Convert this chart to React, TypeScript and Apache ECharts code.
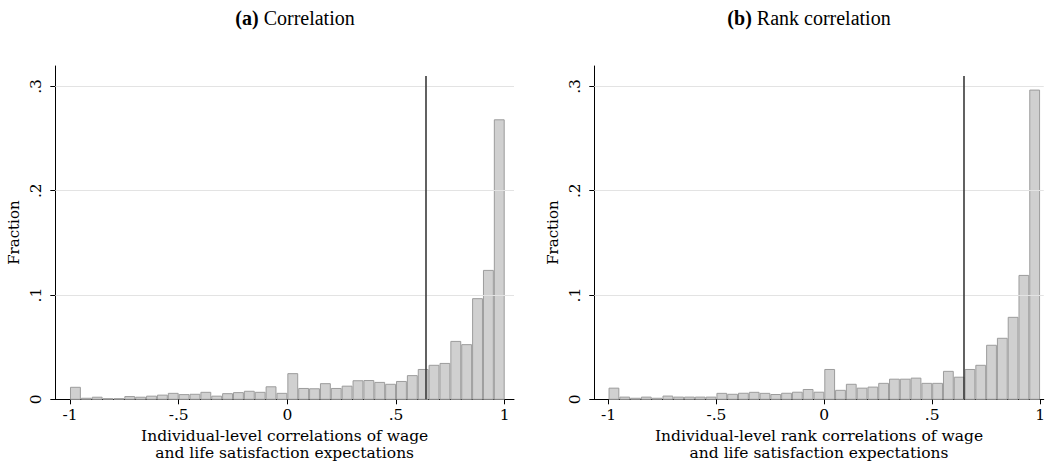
import React, { useEffect, useRef } from "react";
import * as echarts from "echarts";

// Histogram bins: 40 bins of width 0.05 starting at -1
const BIN_START = -1;
const BIN_WIDTH = 0.05;

// Fraction of respondents per bin, panel (a): correlation
const corrFractions = [
  0.0115, 0.001, 0.002, 0.0006, 0.0006, 0.0026, 0.002, 0.003, 0.004, 0.0057,
  0.0045, 0.0048, 0.0067, 0.003, 0.0054, 0.0064, 0.0077, 0.0067, 0.012, 0.0057,
  0.0246, 0.0104, 0.0101, 0.015, 0.0104, 0.0126, 0.0178, 0.018, 0.0162, 0.0144,
  0.0171, 0.0227, 0.0286, 0.0326, 0.0344, 0.0555, 0.0524, 0.0965, 0.1236, 0.268,
];

// Fraction of respondents per bin, panel (b): rank correlation
const rankFractions = [
  0.0107, 0.0021, 0.001, 0.0021, 0.001, 0.0031, 0.0021, 0.0021, 0.0021, 0.0021,
  0.0057, 0.0048, 0.0058, 0.0067, 0.0057, 0.0046, 0.0058, 0.0068, 0.0094, 0.0068,
  0.0286, 0.0086, 0.0144, 0.0107, 0.0117, 0.0153, 0.0193, 0.0193, 0.0203, 0.0153,
  0.0153, 0.0268, 0.0212, 0.0286, 0.0326, 0.0518, 0.0585, 0.0786, 0.1188, 0.2965,
];

// Mean correlation marked by the vertical line
const corrMean = 0.637;
const rankMean = 0.644;

const xTicks = [-1, -0.5, 0, 0.5, 1];
const yTicks = [0, 0.1, 0.2, 0.3];
const gridLines = [0.1, 0.2, 0.3];

const panelTitles = ["Correlation", "Rank correlation"];
const panelTags = ["(a)", "(b)"];
const xTitles = [
  "Individual-level correlations of wage\nand life satisfaction expectations",
  "Individual-level rank correlations of wage\nand life satisfaction expectations",
];
const yTitle = "Fraction";

const FONT = "DejaVu Serif";
const TITLE_FONT = "Liberation Serif";

const fmt = (v: number) => {
  if (Math.abs(v) < 1e-9) return "0";
  const s = String(Math.round(v * 100) / 100);
  return s.replace(/^(-?)0\./, "$1.");
};

const panels = [
  { fractions: corrFractions, mean: corrMean, left: 55.3, right: 514, xmin: -1.0676, xmax: 1.0428, titleX: 295 },
  { fractions: rankFractions, mean: rankMean, left: 594.3, right: 1047.5, xmin: -1.066, xmax: 1.017, titleX: 809 },
];

const GRID_TOP = 66;
const GRID_BOTTOM = 399.3;
const Y_MAX = 0.3196;

export default function App() {
  const ref = useRef<HTMLDivElement>(null);

  useEffect(() => {
    if (!ref.current) return;
    const chart = echarts.init(ref.current, null, { renderer: "svg" });

    const grids: any[] = [];
    const xAxes: any[] = [];
    const yAxes: any[] = [];
    const series: any[] = [];
    const graphics: any[] = [];

    panels.forEach((p, i) => {
      grids.push({
        left: p.left,
        top: GRID_TOP,
        width: p.right - p.left,
        height: GRID_BOTTOM - GRID_TOP,
        containLabel: false,
      });
      xAxes.push({
        gridIndex: i,
        type: "value",
        min: p.xmin,
        max: p.xmax,
        axisLine: { show: true, onZero: false, lineStyle: { color: "#000", width: 1 } },
        axisTick: { show: true, customValues: xTicks, length: 5, lineStyle: { color: "#000", width: 1 } },
        axisLabel: {
          customValues: xTicks,
          formatter: (v: number) => fmt(v),
          fontFamily: FONT,
          fontSize: 15.5,
          color: "#000",
          margin: 8,
        },
        splitLine: { show: false },
        name: xTitles[i],
        nameLocation: "middle",
        nameGap: 28,
        nameTextStyle: { fontFamily: FONT, fontSize: 15.5, color: "#000", lineHeight: 16.5 },
      });
      yAxes.push({
        gridIndex: i,
        type: "value",
        min: 0,
        max: Y_MAX,
        axisLine: { show: true, onZero: false, lineStyle: { color: "#000", width: 1 } },
        axisTick: { show: true, customValues: yTicks, length: 5, lineStyle: { color: "#000", width: 1 } },
        axisLabel: {
          customValues: yTicks,
          formatter: (v: number) => fmt(v),
          rotate: 90,
          fontFamily: FONT,
          fontSize: 15.5,
          color: "#000",
          margin: 11,
        },
        splitLine: { show: false },
        name: yTitle,
        nameLocation: "middle",
        nameRotate: 90,
        nameGap: 34,
        nameTextStyle: { fontFamily: FONT, fontSize: 15, color: "#000" },
      });

      // horizontal gridlines
      series.push({
        type: "line",
        xAxisIndex: i,
        yAxisIndex: i,
        data: [],
        z: 1,
        markLine: {
          silent: true,
          symbol: "none",
          label: { show: false },
          lineStyle: { color: "#e3e3e3", width: 1, type: "solid" },
          data: gridLines.map((y) => ({ yAxis: y })),
        },
      });

      // histogram bars
      const data = p.fractions.map((f, k) => [BIN_START + k * BIN_WIDTH, BIN_START + (k + 1) * BIN_WIDTH, f]);
      series.push({
        type: "custom",
        xAxisIndex: i,
        yAxisIndex: i,
        z: 2,
        data,
        renderItem: (params: any, api: any) => {
          const tl = api.coord([api.value(0), api.value(2)]);
          const br = api.coord([api.value(1), 0]);
          return {
            type: "rect",
            shape: { x: tl[0] + 0.5, y: tl[1], width: br[0] - tl[0] - 1, height: br[1] - tl[1] },
            style: { fill: "#d0d0d0", stroke: "#9c9c9c", lineWidth: 1 },
          };
        },
      });

      // mean line
      series.push({
        type: "line",
        xAxisIndex: i,
        yAxisIndex: i,
        data: [],
        z: 3,
        markLine: {
          silent: true,
          symbol: "none",
          label: { show: false },
          lineStyle: { color: "#3a3a3a", width: 1.6, type: "solid" },
          data: [[{ coord: [p.mean, 0] }, { coord: [p.mean, 0.31] }]],
        },
      });

      graphics.push({
        type: "text",
        x: p.titleX,
        y: 18,
        style: {
          text: `{b|${panelTags[i]}}{n| ${panelTitles[i]}}`,
          textAlign: "center",
          textVerticalAlign: "middle",
          rich: {
            b: { fontFamily: TITLE_FONT, fontSize: 20, fontWeight: "bold", fill: "#000" },
            n: { fontFamily: TITLE_FONT, fontSize: 20, fill: "#000" },
          },
        },
      });
    });

    chart.setOption({
      animation: false,
      backgroundColor: "#fff",
      grid: grids,
      xAxis: xAxes,
      yAxis: yAxes,
      series,
      graphic: graphics,
    });

    return () => chart.dispose();
  }, []);

  return <div ref={ref} style={{ position: "absolute", left: 0, top: 0, width: 1048, height: 468 }} />;
}
